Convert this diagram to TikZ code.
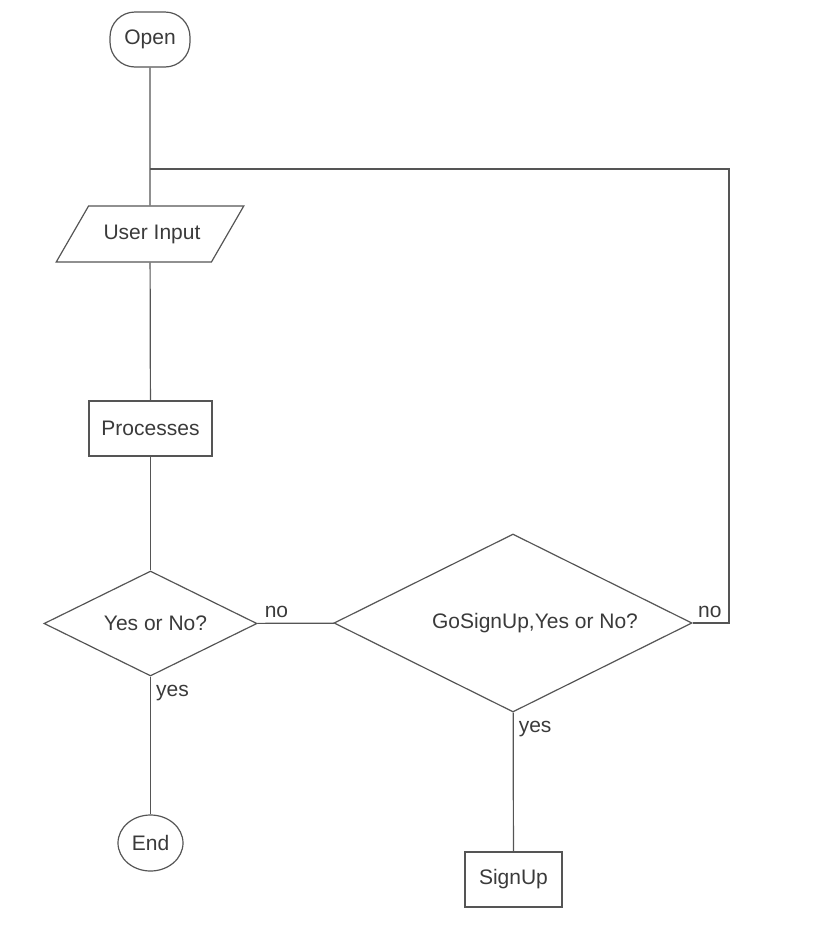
\documentclass[tikz,border=0pt]{standalone}
\usepackage{fontspec}
\setmainfont{Liberation Sans}
\usetikzlibrary{shapes.geometric,positioning}
\definecolor{ink}{HTML}{555555}
\definecolor{txt}{HTML}{3A3A3A}

\begin{document}
\begin{tikzpicture}[x=1pt,y=1pt,
 box/.style={draw=ink,line width=1.2pt,text=txt,font=\fontsize{21}{25}\selectfont,inner sep=0pt},
 term/.style={box,rounded corners=25pt,minimum width=80pt,minimum height=55pt},
 stop/.style={box,ellipse,minimum width=65pt,minimum height=56pt},
 io/.style={box,trapezium,trapezium left angle=60,trapezium right angle=120,text height=15pt,text depth=4pt,inner xsep=11pt,inner ysep=18.5pt},
 proc/.style={box,rectangle,minimum height=55pt},
 ask/.style={box,diamond,aspect=2},
 lbl/.style={text=txt,font=\fontsize{21}{25}\selectfont,inner sep=5pt},
 ln/.style={draw=ink,line width=1.2pt}]
 \useasboundingbox (0,0) rectangle (816,-927);
 % main column
 \node[term] (open) at (150,-39.5) {Open};
 \node[io] (input) at (150,-234) {\hspace*{4pt}User Input};
 \node[proc,minimum width=123pt] (proc) at (150.5,-428.5) {Processes};
 \node[ask,minimum width=213pt,minimum height=105pt] (yn) at (150.5,-623.5) {\hspace*{10pt}Yes or No?};
 \node[stop] (end) at (150.5,-843) {End};
 % sign up branch
 \node[ask,minimum width=358pt,minimum height=178pt] (gosign) at (513,-623) {\hspace*{44pt}GoSignUp,Yes or No?};
 \node[proc,minimum width=97pt] (signup) at (513.5,-879.5) {SignUp};
 \coordinate (join) at (150,-169);
 \coordinate (back) at (729,-169);
 % connectors
 \draw[ln] (open) -- (input);
 \draw[ln] (input) -- (proc);
 \draw[ln] (proc) -- (yn);
 \draw[ln] (yn) -- node[lbl,pos=0.12,right]{yes} (end);
 \draw[ln] (yn) -- node[lbl,pos=0.25,above]{no} (gosign);
 \draw[ln] (gosign) -- node[lbl,pos=0.12,right]{yes} (signup);
 \draw[ln] (gosign.east) node[lbl,above right]{no} -| (back) -- (join);
\end{tikzpicture}
\end{document}
